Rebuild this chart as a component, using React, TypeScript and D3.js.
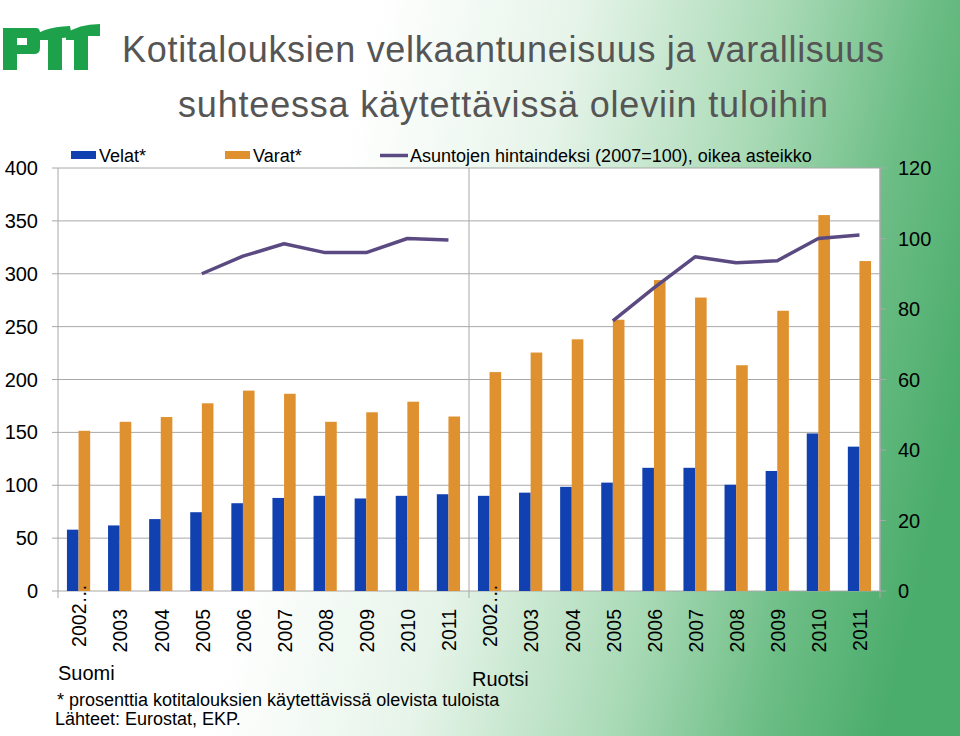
import React, { useEffect } from "react";
import * as d3 from "d3";

const countries = ["Suomi", "Ruotsi"];
const years = ["2002…", "2003", "2004", "2005", "2006", "2007", "2008", "2009", "2010", "2011"];
const seriesNames = ["Velat*", "Varat*", "Asuntojen hintaindeksi (2007=100), oikea asteikko"];

const velatSuomi = [58, 62, 68, 74.5, 83, 88, 90, 87.5, 90, 91.5];
const varatSuomi = [151.5, 160, 164.5, 177.5, 189.5, 186.5, 160, 169, 179, 165];
const indeksiSuomi: (number | null)[] = [null, null, null, 90, 95, 98.5, 96, 96, 100, 99.6];

const velatRuotsi = [90, 93, 98.5, 102.5, 116.5, 116.5, 100.5, 113.5, 149, 136.5];
const varatRuotsi = [207, 225.5, 238, 256.5, 294, 277.5, 213.5, 265, 355.5, 312];
const indeksiRuotsi: (number | null)[] = [null, null, null, 76.6, 86, 94.8, 93.1, 93.7, 100, 101];

const leftDomain = [0, 400];
const rightDomain = [0, 120];

const titleLines = ["Kotitalouksien velkaantuneisuus ja varallisuus", "suhteessa käytettävissä oleviin tuloihin"];
const footnotes = ["* prosenttia kotitalouksien käytettävissä olevista tuloista", "Lähteet: Eurostat, EKP."];

const BLUE = "#1141B1";
const ORANGE = "#E0912F";
const PURPLE = "#5B4A82";
const GRID = "#A8A8A8";
const FONT = "'Liberation Sans', Arial, sans-serif";

export default function App() {
  useEffect(() => {
    document.body.style.margin = "0";
  }, []);

  const W = 960, H = 736;
  const plotL = 58, plotR = 880, plotT = 168, plotB = 591;

  const rows = countries.flatMap((c, ci) =>
    years.map((y, yi) => ({
      key: `${c}-${y}`,
      country: ci,
      year: y,
      velat: ci === 0 ? velatSuomi[yi] : velatRuotsi[yi],
      varat: ci === 0 ? varatSuomi[yi] : varatRuotsi[yi],
      indeksi: ci === 0 ? indeksiSuomi[yi] : indeksiRuotsi[yi],
    }))
  );

  const x = d3.scaleBand<string>().domain(rows.map((r) => r.key)).range([plotL, plotR]).padding(0);
  const sub = d3.scaleBand<string>().domain(["velat", "varat"]).range([0, x.bandwidth()]).paddingInner(0).paddingOuter(0.77);
  const yL = d3.scaleLinear().domain(leftDomain).range([plotB, plotT]);
  const yR = d3.scaleLinear().domain(rightDomain).range([plotB, plotT]);

  const line = d3
    .line<{ key: string; indeksi: number | null }>()
    .defined((d) => d.indeksi != null)
    .x((d) => (x(d.key) as number) + x.bandwidth() / 2)
    .y((d) => yR(d.indeksi as number));

  const groupBounds = [plotL, (x(rows[10].key) as number), plotR];

  return (
    <svg width={W} height={H} style={{ display: "block", position: "absolute", left: 0, top: 0 }} fontFamily={FONT}>
      <defs>
        <linearGradient id="bg" gradientUnits="userSpaceOnUse" x1="320" y1="250" x2="960" y2="400">
          <stop offset="0" stopColor="#ffffff" />
          <stop offset="0.3" stopColor="#E6F4E9" />
          <stop offset="0.6" stopColor="#A9DAB6" />
          <stop offset="0.82" stopColor="#6CBD85" />
          <stop offset="1" stopColor="#4BAD6C" />
        </linearGradient>
      </defs>
      <rect x={0} y={0} width={W} height={H} fill="url(#bg)" />

      {/* logo */}
      <g fill="#1DA24B">
        <path d="M3,28 L36,28 Q40,28 40,33 L40,48 Q40,54 34,54 L17,54 L17,70 L3,70 Z M17,38 L17,45 L27,45 L27,38 Z" />
        <path d="M30,40 Q40,27 70,26 L72,37 L62,38 L62,70 L48,70 L48,40 Z" />
        <path d="M66,34 Q78,24 100,24 L100,36 L88,36 L88,70 L74,70 L74,40 L66,40 Z" />
      </g>

      {/* title */}
      <text x={122} y={62} fontSize={36} fill="#555555" textLength={762} lengthAdjust="spacing">{titleLines[0]}</text>
      <text x={178} y={117} fontSize={36} fill="#555555" textLength={650} lengthAdjust="spacing">{titleLines[1]}</text>

      {/* legend */}
      <rect x={71} y={151} width={25} height={8} fill={BLUE} />
      <text x={99} y={162} fontSize={18} fill="#000">{seriesNames[0]}</text>
      <rect x={225} y={151} width={25} height={8} fill={ORANGE} />
      <text x={253} y={162} fontSize={18} fill="#000">{seriesNames[1]}</text>
      <line x1={380} x2={408} y1={155.5} y2={155.5} stroke={PURPLE} strokeWidth={3.5} />
      <text x={410} y={162} fontSize={18} fill="#000">{seriesNames[2]}</text>

      {/* plot area */}
      <rect x={plotL} y={plotT} width={plotR - plotL} height={plotB - plotT} fill="#fff" />

      {/* gridlines & left axis */}
      {yL.ticks(8).map((t) => (
        <g key={`l${t}`}>
          <line x1={plotL - 6} x2={plotR} y1={yL(t)} y2={yL(t)} stroke={GRID} strokeWidth={1} />
          <text x={38} y={yL(t)} dy="0.35em" textAnchor="end" fontSize={20} fill="#000">{t}</text>
        </g>
      ))}

      {/* right axis */}
      <line x1={plotR} x2={plotR} y1={plotT} y2={plotB} stroke={GRID} />
      {yR.ticks(6).map((t) => (
        <g key={`r${t}`}>
          <line x1={plotR} x2={plotR + 6} y1={yR(t)} y2={yR(t)} stroke={GRID} />
          <text x={898} y={yR(t)} dy="0.35em" textAnchor="start" fontSize={20} fill="#000">{t}</text>
        </g>
      ))}

      {/* vertical separators */}
      {groupBounds.map((gx, i) => (
        <line key={`g${i}`} x1={gx} x2={gx} y1={plotT} y2={plotB + 7} stroke={GRID} />
      ))}

      {/* bars */}
      {rows.map((r) => (
        <g key={r.key}>
          <rect x={(x(r.key) as number) + (sub("velat") as number)} y={yL(r.velat)} width={sub.bandwidth()} height={yL(0) - yL(r.velat)} fill={BLUE} />
          <rect x={(x(r.key) as number) + (sub("varat") as number)} y={yL(r.varat)} width={sub.bandwidth()} height={yL(0) - yL(r.varat)} fill={ORANGE} />
        </g>
      ))}

      {/* index lines */}
      {countries.map((c, ci) => (
        <path key={c} d={line(rows.filter((r) => r.country === ci)) || ""} fill="none" stroke={PURPLE} strokeWidth={3.5} strokeLinejoin="round" />
      ))}

      {/* category labels */}
      {rows.map((r) => {
        const cx = (x(r.key) as number) + x.bandwidth() / 2 + 1;
        const ty = r.year.endsWith("…") ? 584 : 609;
        return (
          <text key={`c${r.key}`} x={cx} y={ty} dy="0.35em" transform={`rotate(-90, ${cx}, ${ty})`} textAnchor="end" fontSize={19.5} fill="#000">
            {r.year}
          </text>
        );
      })}

      {/* country labels */}
      <text x={58} y={680} fontSize={20} fill="#000">{countries[0]}</text>
      <text x={472} y={686} fontSize={20} fill="#000">{countries[1]}</text>

      {/* footnotes */}
      <text x={57} y={706} fontSize={18} fill="#000">{footnotes[0]}</text>
      <text x={55} y={725} fontSize={18} fill="#000">{footnotes[1]}</text>
    </svg>
  );
}
